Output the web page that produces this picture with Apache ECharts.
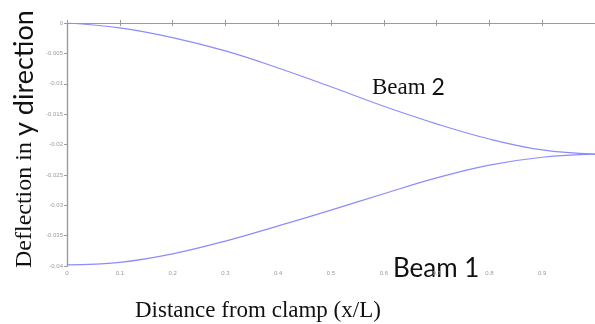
<!DOCTYPE html>
<html>
<head>
<meta charset="utf-8">
<script src="https://cdn.jsdelivr.net/npm/echarts@6/dist/echarts.min.js"></script>
<style>
  html, body { margin: 0; padding: 0; background: #fff; }
  #chart { width: 595px; height: 324px; }
</style>
</head>
<body>
<div id="chart"></div>
<script>
// x/L positions along the beam
const positions = [0, 0.1, 0.2, 0.3, 0.4, 0.5, 0.6, 0.7, 0.8, 0.9, 1.0];
// deflection
const beam2 = [0, -0.0008, -0.0024, -0.0046, -0.0074, -0.0105, -0.0137, -0.0166, -0.0191, -0.0209, -0.0216];
const beam1 = [-0.0398, -0.0394, -0.0380, -0.0359, -0.0334, -0.0308, -0.0281, -0.0255, -0.0234, -0.0221, -0.0216];

const axisGray = '#9a9a9a';
const lineBlue = '#8c8cff';

const chart = echarts.init(document.getElementById('chart'));

const option = {
  animation: false,
  grid: { left: 67, right: 0, top: 23, height: 243 },
  xAxis: [
    {
      type: 'value',
      min: 0,
      max: 1,
      interval: 0.1,
      position: 'bottom',
      splitLine: { show: false },
      axisLine: { lineStyle: { color: axisGray, width: 1.2 } },
      axisTick: { inside: true, length: 3, lineStyle: { color: axisGray } },
      axisLabel: { fontSize: 6, color: '#999', margin: 4, showMaxLabel: false },
    },
    {
      type: 'value',
      min: 0,
      max: 1,
      interval: 0.1,
      position: 'top',
      splitLine: { show: false },
      axisLine: { lineStyle: { color: axisGray, width: 1.2 } },
      axisTick: { inside: true, length: 3, lineStyle: { color: axisGray } },
      axisLabel: { show: false },
    },
  ],
  yAxis: [
    {
      type: 'value',
      min: -0.04,
      max: 0,
      interval: 0.005,
      position: 'left',
      splitLine: { show: false },
      axisLine: { show: true, lineStyle: { color: axisGray, width: 1.2 } },
      axisTick: { show: true, length: 3, lineStyle: { color: axisGray } },
      axisLabel: { fontSize: 6, color: '#999', margin: 4 },
    },
    {
      type: 'value',
      min: -0.04,
      max: 0,
      interval: 0.005,
      position: 'right',
      splitLine: { show: false },
      axisLine: { show: true, lineStyle: { color: axisGray, width: 1.2 } },
      axisTick: { show: true, inside: true, length: 3, lineStyle: { color: axisGray } },
      axisLabel: { show: false },
    },
  ],
  series: [
    {
      name: 'Beam 2',
      type: 'line',
      smooth: 0.4,
      showSymbol: false,
      data: positions.map((x, i) => [x, beam2[i]]),
      lineStyle: { color: lineBlue, width: 1.2 },
    },
    {
      name: 'Beam 1',
      type: 'line',
      smooth: 0.4,
      showSymbol: false,
      data: positions.map((x, i) => [x, beam1[i]]),
      lineStyle: { color: lineBlue, width: 1.2 },
    },
  ],
  graphic: [
    {
      type: 'text',
      x: 11,
      y: 268,
      rotation: Math.PI / 2,
      style: {
        text: '{a|Deflection in }{b|y direction}',
        rich: {
          a: { fontFamily: 'Liberation Serif', fontSize: 24, fill: '#111' },
          b: { fontFamily: 'Lato', fontSize: 27, fill: '#111' },
        },
        verticalAlign: 'top',
      },
    },
    {
      type: 'text',
      x: 372,
      y: 76,
      style: {
        text: '{a|Beam }{b|2}',
        rich: {
          a: { fontFamily: 'Liberation Serif', fontSize: 23, fill: '#111' },
          b: { fontFamily: 'Lato', fontSize: 23, fill: '#111' },
        },
      },
    },
    {
      type: 'text',
      x: 393,
      y: 256,
      style: {
        text: 'Beam 1',
        fontFamily: 'Lato',
        fontSize: 26,
        fill: '#111',
      },
    },
    {
      type: 'text',
      x: 135,
      y: 299,
      style: {
        text: 'Distance from clamp (x/L)',
        fontFamily: 'Liberation Serif',
        fontSize: 23,
        fill: '#111',
      },
    },
  ],
};

chart.setOption(option);
</script>
</body>
</html>
